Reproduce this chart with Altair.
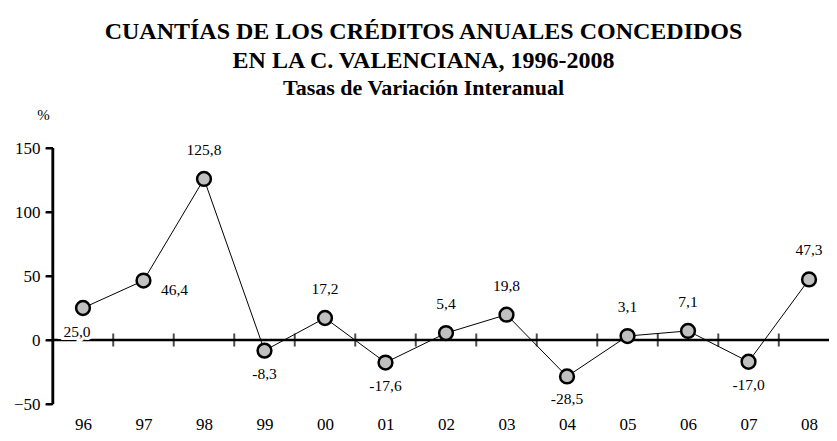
import json
import altair as alt
import pandas as pd

years = ["96", "97", "98", "99", "00", "01", "02", "03", "04", "05", "06", "07", "08"]
values = [25.0, 46.4, 125.8, -8.3, 17.2, -17.6, 5.4, 19.8, -28.5, 3.1, 7.1, -17.0, 47.3]
y_ticks = [-50, 0, 50, 100, 150]

above_years = ["98", "00", "02", "03", "05", "06", "08"]
below_years = ["99", "01", "04", "07"]

df = pd.DataFrame({
    "idx": list(range(len(years))),
    "year": years,
    "value": values,
    "label": [f"{v:.1f}".replace(".", ",") for v in values],
})
tick_df = pd.DataFrame({"tv": y_ticks})

FONT = "Liberation Serif"
W, H = 777, 256
X0, X1 = -0.512, 12.33

xscale = alt.Scale(domain=[X0, X1], nice=False, zero=False)
yscale = alt.Scale(domain=[min(y_ticks), max(y_ticks)], nice=False, zero=False)

label_expr = json.dumps(years) + "[round(datum.value)]"

base = alt.Chart(df)

x_enc = alt.X("idx:Q", scale=xscale, axis=alt.Axis(
    values=list(range(len(years))), labelExpr=label_expr, domain=False, ticks=False,
    grid=False, labelFont=FONT, labelFontSize=17, labelPadding=12, labelColor="black",
    title=None))
y_enc = alt.Y("value:Q", scale=yscale, axis=alt.Axis(
    values=y_ticks, grid=False, domain=True, ticks=True, domainWidth=2,
    domainColor="black", tickWidth=2, tickColor="black", tickSize=7,
    labelFont=FONT, labelFontSize=17, labelPadding=5, labelColor="black",
    title="%", titleAngle=0, titleX=-9, titleY=-34, titleAlign="center",
    titleBaseline="middle", titleFont=FONT, titleFontSize=15,
    titleFontWeight="normal", titleColor="black", zindex=1))

zero_line = base.transform_filter("datum.idx == 0").mark_rule(
    color="black", strokeWidth=2.5).encode(
    x=alt.datum(X0, scale=xscale), x2=alt.datum(X1), y=alt.datum(0, scale=yscale))

ticks = base.transform_filter("datum.idx < 12").transform_calculate(
    b="datum.idx + 0.5", z="0").mark_tick(
    orient="vertical", size=13, thickness=2, color="black").encode(
    x=alt.X("b:Q", scale=xscale), y=alt.Y("z:Q", scale=yscale))

line = base.mark_line(color="black", strokeWidth=1).encode(x=x_enc, y=y_enc)

points = base.mark_circle(color="#c0c0c0", stroke="black", strokeWidth=2.5,
                          size=190, opacity=1).encode(x="idx:Q", y="value:Q")

# explicit left axis line and its ticks, drawn on top
tick_base = alt.Chart(tick_df)
y_axis_line = tick_base.transform_aggregate(lo="min(tv)", hi="max(tv)").mark_rule(
    color="black", strokeWidth=2.5, clip=False).encode(
    x=alt.value(1), y=alt.Y("lo:Q", scale=yscale), y2="hi:Q")
y_axis_ticks = tick_base.mark_rule(color="black", strokeWidth=2, clip=False).encode(
    x=alt.value(1), x2=alt.value(-6), y=alt.Y("tv:Q", scale=yscale))

def text_layer(sel, dx, dy, halo=False):
    props = dict(font=FONT, fontSize=15.5, dx=dx, dy=dy, align="center", baseline="middle")
    if halo:
        props.update(color="white", stroke="white", strokeWidth=6)
    else:
        props.update(color="black")
    return base.transform_filter(
        alt.FieldOneOfPredicate(field="year", oneOf=sel)).mark_text(**props).encode(
        x="idx:Q", y="value:Q", text="label:N")

t_above = text_layer(above_years, 0, -29)
t_below = text_layer(below_years, 0, 23)
t_96_halo = text_layer(["96"], -6, 24, halo=True)
t_96 = text_layer(["96"], -6, 24)
t_97 = text_layer(["97"], 31, 9)

chart = alt.layer(zero_line, ticks, t_96_halo, line, points,
                  t_above, t_below, t_96, t_97, y_axis_line, y_axis_ticks).properties(
    width=W, height=H,
    autosize=alt.AutoSizeParams(type="none"),
    padding={"left": 44, "top": 140, "right": 0, "bottom": 29},
    background="white",
    title=alt.TitleParams(
        text=["CUANTÍAS DE LOS CRÉDITOS ANUALES CONCEDIDOS", "EN LA C. VALENCIANA, 1996-2008"],
        subtitle="Tasas de Variación Interanual",
        font=FONT, fontSize=24, fontWeight="bold", color="black", lineHeight=29,
        subtitleFont=FONT, subtitleFontSize=22, subtitleFontWeight="bold",
        subtitleColor="black", subtitlePadding=5, anchor="middle", offset=8, dx=-17),
).configure_view(stroke="transparent").configure_axis(grid=False)

chart.save("out.html", embed_options={"renderer": "svg", "actions": False})
